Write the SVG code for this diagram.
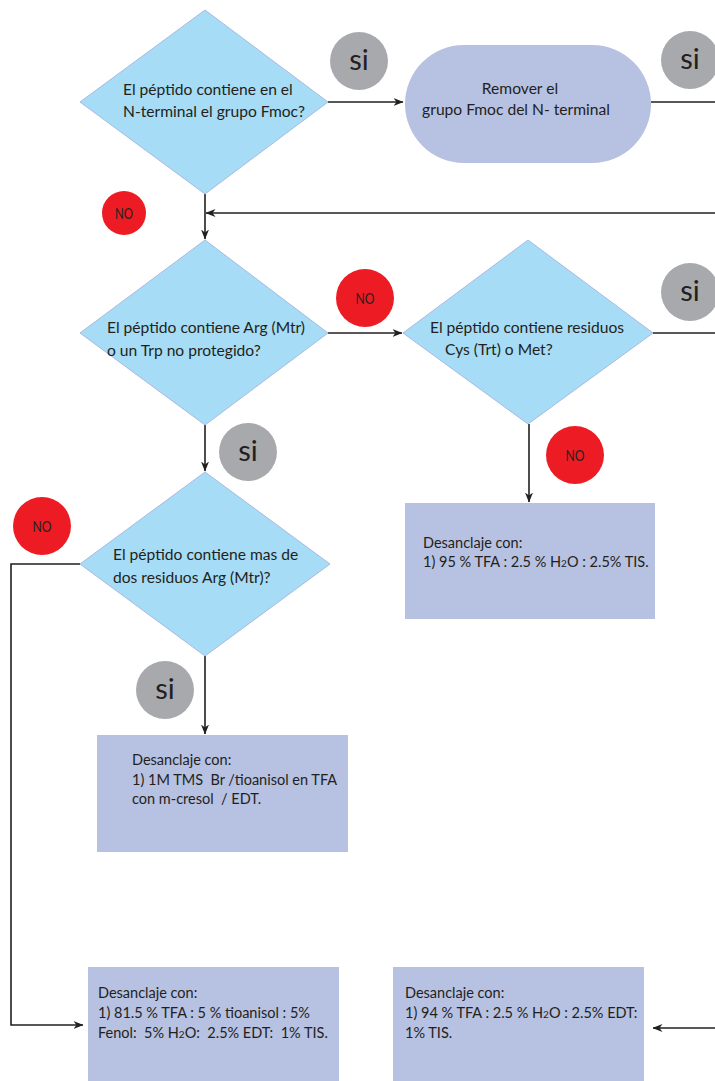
<svg xmlns="http://www.w3.org/2000/svg" width="715" height="1081" viewBox="0 0 715 1081">
<defs>
<marker id="ah" viewBox="0 0 10 8" refX="9.5" refY="4" markerWidth="10" markerHeight="8" markerUnits="userSpaceOnUse" orient="auto">
<path d="M0,0 L10,4 L0,8 L3,4 Z" fill="#231F20"/>
</marker>
<style>
.dia{fill:#A6DCF5;stroke:#A9B9E2;stroke-width:1}
.box{fill:#B7C1E1}
.no{fill:#ED1C24}
.si{fill:#A7A9AC}
.t{font-family:Lato,"Open Sans",sans-serif;font-size:15.6px;fill:#231F20;white-space:pre}
.ts{font-family:Lato,"Open Sans",sans-serif;font-size:14.5px;fill:#231F20;white-space:pre}
.sit{font-family:Lato,"Open Sans",sans-serif;font-size:29px;fill:#231F20;text-anchor:middle}
.not{font-family:Lato,"Open Sans",sans-serif;font-size:16px;fill:#231F20;text-anchor:middle}
.ln{fill:none;stroke:#231F20;stroke-width:1.6}
.sub{font-size:10px}
</style>
</defs>
<rect width="715" height="1081" fill="#FFFFFF"/>

<g id="connectors">
<path class="ln" d="M328,102 H403" marker-end="url(#ah)"/>
<path class="ln" d="M651,102 H715"/>
<path class="ln" d="M715,213 H206" marker-end="url(#ah)"/>
<path class="ln" d="M205,194 V239" marker-end="url(#ah)"/>
<path class="ln" d="M328,333 H402" marker-end="url(#ah)"/>
<path class="ln" d="M653,333 H715"/>
<path class="ln" d="M205,425 V471" marker-end="url(#ah)"/>
<path class="ln" d="M529,424 V502" marker-end="url(#ah)"/>
<path class="ln" d="M205,656 V734" marker-end="url(#ah)"/>
<path class="ln" d="M80,564 H11 V1025 H83" marker-end="url(#ah)"/>
<path class="ln" d="M715,1028 H653" marker-end="url(#ah)"/>
</g>

<g id="label-si-1"><circle class="si" cx="359" cy="61" r="29"/><text class="sit" x="359" y="70">si</text></g>
<g id="label-si-2"><circle class="si" cx="690" cy="60" r="29"/><text class="sit" x="690" y="69">si</text></g>
<g id="label-no-1"><circle class="no" cx="124" cy="213" r="22"/><text class="not" x="124" y="219" textLength="18" lengthAdjust="spacingAndGlyphs">NO</text></g>
<g id="label-no-2"><circle class="no" cx="365" cy="298" r="29"/><text class="not" x="365" y="304" textLength="19" lengthAdjust="spacingAndGlyphs">NO</text></g>
<g id="label-si-3"><circle class="si" cx="690" cy="292" r="29"/><text class="sit" x="690" y="301">si</text></g>
<g id="label-si-4"><circle class="si" cx="248" cy="452" r="29"/><text class="sit" x="248" y="461">si</text></g>
<g id="label-no-3"><circle class="no" cx="575" cy="455" r="29"/><text class="not" x="575" y="461" textLength="19" lengthAdjust="spacingAndGlyphs">NO</text></g>
<g id="label-no-4"><circle class="no" cx="42" cy="526" r="29"/><text class="not" x="42" y="532" textLength="19" lengthAdjust="spacingAndGlyphs">NO</text></g>
<g id="label-si-5"><circle class="si" cx="165" cy="690" r="29"/><text class="sit" x="165" y="699">si</text></g>

<g id="d1">
<polygon class="dia" points="205,10 328,102 205,194 80,102"/>
<text class="t" x="123" y="95">El péptido contiene en el</text>
<text class="t" x="123" y="117">N-terminal el grupo Fmoc?</text>
</g>

<g id="remove-fmoc">
<rect class="box" x="405" y="45" width="246" height="118" rx="59" ry="59"/>
<text class="t" x="520" y="94" text-anchor="middle">Remover el</text>
<text class="t" x="516" y="115" text-anchor="middle">grupo Fmoc del N- terminal</text>
</g>

<g id="d2">
<polygon class="dia" points="205,240 328,333 205,425 80,333"/>
<text class="t" x="107" y="333">El péptido contiene Arg (Mtr)</text>
<text class="t" x="107" y="356">o un Trp no protegido?</text>
</g>

<g id="d3">
<polygon class="dia" points="528,240 653,333 528,424 403,333"/>
<text class="t" x="430" y="333">El péptido contiene residuos</text>
<text class="t" x="445" y="355">Cys (Trt) o Met?</text>
</g>

<g id="d4">
<polygon class="dia" points="205,472 330,564 205,656 80,564"/>
<text class="t" x="113" y="560">El péptido contiene mas de</text>
<text class="t" x="113" y="583">dos residuos Arg (Mtr)?</text>
</g>

<g id="box-95">
<rect class="box" x="405" y="503" width="250" height="116"/>
<text class="ts" x="423" y="548">Desanclaje con:</text>
<text class="ts" x="423" y="567">1) 95 % TFA : 2.5 % H<tspan class="sub">2</tspan>O : 2.5% TIS.</text>
</g>

<g id="box-tms">
<rect class="box" x="97" y="735" width="251" height="117"/>
<text class="ts" x="132" y="765">Desanclaje con:</text>
<text class="ts" x="132" y="785">1) 1M TMS  Br /tioanisol en TFA</text>
<text class="ts" x="132" y="804">con m-cresol  / EDT.</text>
</g>

<g id="box-815">
<rect class="box" x="88" y="967" width="251" height="114"/>
<text class="ts" x="98" y="998">Desanclaje con:</text>
<text class="ts" x="98" y="1018">1) 81.5 % TFA : 5 % tioanisol : 5%</text>
<text class="ts" x="98" y="1038">Fenol:  5% H<tspan class="sub">2</tspan>O:  2.5% EDT:  1% TIS.</text>
</g>

<g id="box-94">
<rect class="box" x="393" y="967" width="251" height="114"/>
<text class="ts" x="405" y="998">Desanclaje con:</text>
<text class="ts" x="405" y="1018">1) 94 % TFA : 2.5 % H<tspan class="sub">2</tspan>O : 2.5% EDT:</text>
<text class="ts" x="405" y="1038">1% TIS.</text>
</g>
</svg>
